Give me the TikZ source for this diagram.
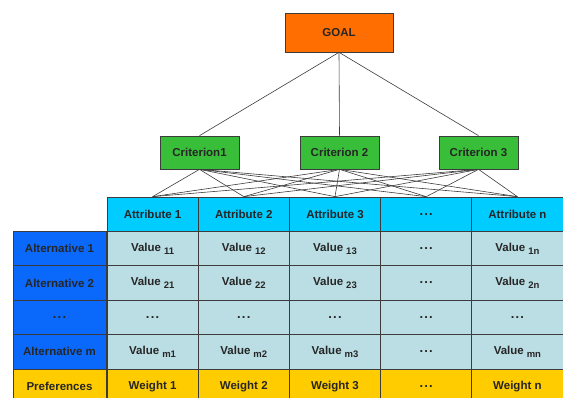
\documentclass[tikz,border=0pt]{standalone}
\usepackage{fontspec}
\setmainfont{Liberation Sans}
\usepackage{tikz}

\definecolor{goalorange}{RGB}{255,110,0}
\definecolor{critgreen}{RGB}{56,190,56}
\definecolor{attcyan}{RGB}{0,204,255}
\definecolor{valcyan}{RGB}{186,222,228}
\definecolor{altblue}{RGB}{10,105,250}
\definecolor{prefyellow}{RGB}{255,204,0}
\definecolor{edgegray}{RGB}{60,60,60}

\newcommand{\idx}[1]{\kern3pt\raisebox{-0.5ex}{\fontsize{9.5}{9.5}\selectfont #1}}
\newcommand{\etc}{{\fontsize{13}{13}\selectfont .\kern1.2pt.\kern1.2pt.}}

\tikzset{
	box/.style={draw=edgegray, line width=0.7pt, inner sep=0pt, text=black!85,
		font=\fontsize{11.5}{13}\selectfont\bfseries},
	goalbox/.style={box, fill=goalorange, minimum width=108pt, minimum height=39pt},
	critbox/.style={box, fill=critgreen, minimum width=79pt, minimum height=33pt},
	cell/.style={box, minimum width=91.2pt, minimum height=34.4pt},
	attcell/.style={cell, fill=attcyan},
	valcell/.style={cell, fill=valcyan},
	altcell/.style={box, fill=altblue, minimum width=93pt, minimum height=34.4pt},
	wcell/.style={cell, fill=prefyellow},
	link/.style={draw=edgegray, line width=0.6pt}
}

\begin{document}
\begin{tikzpicture}[x=1pt, y=-1pt]
	\path[use as bounding box, clip] (0,0) rectangle (563,398);
	
	\node[goalbox] (goal) at (339,32.5) {GOAL};
	
	\node[critbox] (crit1) at (199.5,152.5) {Criterion1};
	\node[critbox] (crit2) at (339.5,152.5) {Criterion 2};
	\node[critbox] (crit3) at (478.5,152.5) {Criterion 3};
	
	% attribute row
	\node[attcell] (att1) at (152.6,214.2) {Attribute 1};
	\node[attcell] (att2) at (243.8,214.2) {Attribute 2};
	\node[attcell] (att3) at (335.0,214.2) {Attribute 3};
	\node[attcell] (att4) at (426.2,214.2) {\etc};
	\node[attcell] (att5) at (517.4,214.2) {Attribute n};
	
	% alternatives
	\node[altcell] (alt1) at (59.5,248.6) {Alternative 1};
	\node[altcell] (alt2) at (59.5,283.0) {Alternative 2};
	\node[altcell] (alt3) at (59.5,317.4) {\etc};
	\node[altcell] (alt4) at (59.5,351.8) {Alternative m};
	\node[wcell, minimum width=93pt] (pref) at (59.5,386.2) {Preferences};
	
	% values
	\node[valcell] (v11) at (152.6,248.6) {Value\idx{11}};
	\node[valcell] (v12) at (243.8,248.6) {Value\idx{12}};
	\node[valcell] (v13) at (335.0,248.6) {Value\idx{13}};
	\node[valcell] (v14) at (426.2,248.6) {\etc};
	\node[valcell] (v15) at (517.4,248.6) {Value\idx{1n}};
	
	\node[valcell] (v21) at (152.6,283.0) {Value\idx{21}};
	\node[valcell] (v22) at (243.8,283.0) {Value\idx{22}};
	\node[valcell] (v23) at (335.0,283.0) {Value\idx{23}};
	\node[valcell] (v24) at (426.2,283.0) {\etc};
	\node[valcell] (v25) at (517.4,283.0) {Value\idx{2n}};
	
	\node[valcell] (v31) at (152.6,317.4) {\etc};
	\node[valcell] (v32) at (243.8,317.4) {\etc};
	\node[valcell] (v33) at (335.0,317.4) {\etc};
	\node[valcell] (v34) at (426.2,317.4) {\etc};
	\node[valcell] (v35) at (517.4,317.4) {\etc};
	
	\node[valcell] (v41) at (152.6,351.8) {Value\idx{m1}};
	\node[valcell] (v42) at (243.8,351.8) {Value\idx{m2}};
	\node[valcell] (v43) at (335.0,351.8) {Value\idx{m3}};
	\node[valcell] (v44) at (426.2,351.8) {\etc};
	\node[valcell] (v45) at (517.4,351.8) {Value\idx{mn}};
	
	% weights
	\node[wcell] (w1) at (152.6,386.2) {Weight 1};
	\node[wcell] (w2) at (243.8,386.2) {Weight 2};
	\node[wcell] (w3) at (335.0,386.2) {Weight 3};
	\node[wcell] (w4) at (426.2,386.2) {\etc};
	\node[wcell] (w5) at (517.4,386.2) {Weight n};
	
	\foreach \c in {1,2,3} {
		\draw[link] (goal.south) -- (crit\c.north);
		\foreach \a in {1,...,5}
			\draw[link] (crit\c.south) -- (att\a.north);
	}
\end{tikzpicture}
\end{document}
